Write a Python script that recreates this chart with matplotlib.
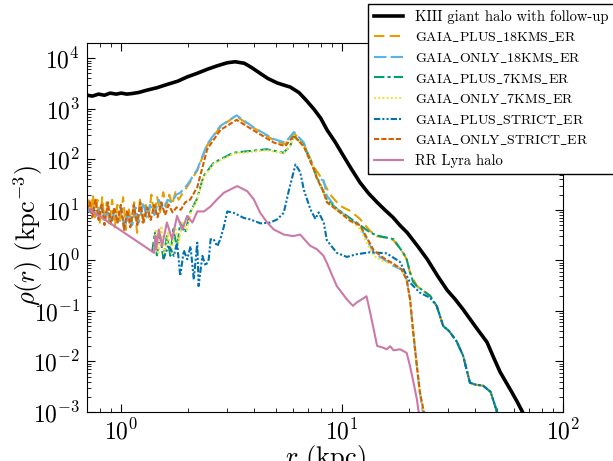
import numpy as np
import matplotlib
matplotlib.use('Agg')
from matplotlib import pyplot as plt

plt.rcParams['font.family'] = ['cmr10', 'DejaVu Serif']
plt.rcParams['mathtext.fontset'] = 'cm'
plt.rcParams['axes.formatter.use_mathtext'] = True
plt.rcParams['axes.unicode_minus'] = False

# radius (kpc) and density (kpc^-3)
r_kiii = [0.70, 0.74, 0.79, 0.84, 0.89, 0.95, 1.0, 1.06, 1.12, 1.2, 1.31, 1.45,
          1.61, 1.8, 1.99, 2.2, 2.45, 2.7, 3.02, 3.28, 3.61, 3.9, 4.26, 4.6,
          5.08, 5.5, 5.82, 6.38, 6.9, 7.46, 8.0, 8.55, 9.3, 10.1, 11.0, 12.05,
          13.2, 14.4, 15.6, 17.0, 18.3, 19.7, 22.0, 24.3, 27.0, 29.9, 32.5,
          35.3, 40.0, 45.3, 48.5, 51.9, 55.0, 58.7, 62.0, 65.2, 68.0]
rho_kiii = [1860, 1780, 1950, 1850, 2040, 1950, 2040, 1950, 2000, 2100, 2340,
            2600, 3020, 3500, 4270, 5000, 6030, 7000, 8130, 8510, 7940, 6500,
            5010, 4000, 3240, 2900, 2690, 2090, 1450, 977, 650, 380, 220, 120,
            65, 34.7, 21, 14.1, 10, 7.08, 4.9, 3.55, 1.9, 1.05, 0.5, 0.257,
            0.17, 0.107, 0.05, 0.024, 0.012, 0.0062, 0.004, 0.00245, 0.0016,
            0.00105, 0.0007]

r_plus18 = [0.70, 0.715, 0.73, 0.745, 0.76, 0.78, 0.80, 0.82, 0.84, 0.86, 0.885,
            0.91, 0.935, 0.96, 0.99, 1.02, 1.05, 1.08, 1.11, 1.145, 1.18, 1.215,
            1.25, 1.29, 1.33, 1.37, 1.41, 1.455, 1.50, 1.55, 1.60, 1.65, 1.70,
            1.76, 1.82, 1.88, 1.95, 2.05, 2.21, 2.45, 2.81, 3.3, 3.98, 4.91,
            5.53, 6.05, 6.71, 7.45, 8.0, 8.83, 9.79, 10.9, 12.05, 13.4, 14.4,
            15.9, 17.1, 18.9, 19.6, 20.3, 21.8, 25.0, 26.8, 28.7, 30.5, 33.0,
            35.3, 37.9, 40.0, 43.6, 47.0, 50.1, 51.5]
rho_plus18 = [10, 17.8, 8.9, 20, 7.1, 15.8, 5.6, 17.8, 6.3, 14.1, 5.0, 15.8, 4.5,
              12.6, 5.6, 17.8, 4.0, 11.2, 5.0, 14.1, 3.5, 15.8, 5.6, 12.6, 7.1,
              20, 7.9, 17.8, 8.9, 22.4, 11.2, 20, 12.6, 22.4, 15.8, 20, 25, 35.5,
              60, 190, 437, 724, 417, 240, 200, 331, 200, 71, 44.7, 20, 12.0,
              9.5, 6.6, 3.8, 3.0, 2.8, 2.5, 1.4, 1.05, 0.575, 0.31, 0.20, 0.126,
              0.05, 0.04, 0.025, 0.013, 0.0038, 0.0035, 0.0033, 0.0025, 0.00105,
              0.0007]

r_only18 = [0.70, 0.724, 0.75, 0.776, 0.813, 0.841, 0.871, 0.902, 0.933, 0.966,
            1.0, 1.035, 1.072, 1.122, 1.161, 1.202, 1.259, 1.303, 1.349, 1.413,
            1.479, 1.549, 1.622, 1.698, 1.778, 1.854, 1.995, 2.21, 2.45, 2.81,
            3.33, 3.98, 4.91, 5.53, 6.05, 6.71, 7.45, 7.69, 8.26, 8.53, 9.46,
            10.9, 12.05, 12.9, 13.9, 15.4, 17.1, 18.6, 19.6, 20.3, 21.0, 21.8,
            22.5, 23.3]
rho_only18 = [10, 8.9, 11.2, 7.6, 12.6, 6.6, 8.9, 5.4, 10, 5.6, 11.2, 4.2, 8.9,
              5.0, 11.2, 5.6, 14.1, 7.1, 12.6, 7.9, 15.8, 10, 15.8, 14.1, 20,
              21.9, 31.6, 63, 200, 457, 741, 427, 251, 214, 347, 214, 63, 43,
              38, 19, 10.5, 6.46, 4.79, 2.63, 1.41, 1.05, 0.776, 0.66, 0.417,
              0.17, 0.037, 0.0081, 0.00245, 0.00089]

r_plus7 = [1.38, 1.42, 1.45, 1.50, 1.55, 1.61, 1.67, 1.72, 1.79, 1.85, 1.95,
           2.05, 2.20, 2.36, 2.62, 3.22, 4.56, 5.42, 5.80, 6.05, 6.71, 7.45,
           7.69, 8.53, 9.46, 10.5, 12.05, 13.4, 14.4, 17.1, 18.9, 19.6, 20.3,
           21.0, 21.8, 25.0, 26.8, 28.7, 30.5, 33.0, 35.3, 37.9, 40.0, 43.6,
           47.0, 50.1, 51.5]
rho_plus7 = [1.45, 3.55, 1.26, 3.16, 1.12, 3.02, 1.23, 4.17, 1.78, 5.62, 3.55,
             8.9, 16.2, 46.8, 85, 135, 158, 135, 178, 282, 190, 66, 44.7, 15.8,
             10.5, 7.6, 5.0, 3.55, 3.1, 2.63, 1.41, 1.05, 0.575, 0.37, 0.31,
             0.20, 0.126, 0.05, 0.04, 0.025, 0.013, 0.0038, 0.0035, 0.0033,
             0.0025, 0.00105, 0.0007]

r_only7 = [1.40, 1.44, 1.47, 1.52, 1.57, 1.63, 1.69, 1.75, 1.82, 1.90, 1.98,
           2.07, 2.20, 2.36, 2.62, 3.22, 4.56, 5.42, 5.80, 6.05, 6.71, 7.45,
           7.69, 8.53, 9.46, 10.5, 12.05, 13.9, 15.4, 17.1, 18.6, 19.6, 20.3,
           21.0, 21.8, 22.5, 23.3, 23.8]
rho_only7 = [1.41, 4.17, 1.32, 4.79, 1.12, 3.55, 1.41, 5.0, 2.24, 6.0, 4.0, 9.5,
             15.1, 43.7, 81, 129, 151, 132, 178, 275, 186, 66, 43.7, 15.1, 10,
             7.1, 4.17, 1.23, 0.95, 0.85, 0.66, 0.417, 0.17, 0.037, 0.0081,
             0.00245, 0.00115, 0.0008]

r_plus_strict = [1.55, 1.64, 1.73, 1.79, 1.85, 1.92, 1.99, 2.06, 2.13, 2.21,
                 2.24, 2.33, 2.41, 2.49, 2.54, 2.62, 2.72, 2.81, 2.92, 3.02,
                 3.24, 3.59, 3.84, 4.27, 4.72, 5.08, 5.44, 5.75, 6.15, 6.46,
                 6.71, 7.19, 7.57, 7.83, 8.26, 8.53, 9.46, 10.5, 11.6, 13.4,
                 15.9, 18.3, 20.3, 22.5, 25.0, 26.8, 28.7, 30.5, 33.0, 35.3,
                 37.9, 40.0, 43.6, 47.0, 50.1, 51.5]
rho_plus_strict = [1.05, 2.0, 1.23, 2.24, 0.49, 1.58, 1.05, 1.9, 0.42, 2.24,
                   0.31, 1.23, 0.78, 1.05, 2.63, 2.63, 1.9, 2.63, 4.79, 9.3,
                   8.7, 6.9, 6.46, 5.4, 5.6, 6.46, 8.7, 25, 79, 56, 25, 10.2,
                   6.6, 8.9, 5.6, 2.5, 1.41, 1.17, 1.32, 1.45, 1.38, 0.93,
                   0.363, 0.229, 0.182, 0.126, 0.05, 0.04, 0.025, 0.013,
                   0.0038, 0.0035, 0.0033, 0.0025, 0.00105, 0.0007]

r_only_strict = [0.70, 0.72, 0.74, 0.765, 0.79, 0.815, 0.84, 0.87, 0.90, 0.93,
                 0.96, 0.995, 1.03, 1.065, 1.10, 1.14, 1.18, 1.22, 1.26, 1.31,
                 1.36, 1.41, 1.46, 1.52, 1.58, 1.64, 1.71, 1.78, 1.86, 1.95,
                 2.05, 2.21, 2.45, 2.81, 3.33, 3.98, 4.91, 5.53, 6.05, 6.71,
                 7.45, 7.69, 8.26, 8.53, 9.46, 10.9, 12.05, 13.9, 15.4, 17.1,
                 18.6, 19.6, 20.3, 21.0, 21.8, 22.5, 23.3, 23.8]
rho_only_strict = [10, 14.1, 7.1, 15.8, 6.3, 12.6, 5.0, 14.1, 5.2, 11.2, 5.6,
                   12.6, 4.0, 10, 4.5, 12.6, 5.0, 14.1, 5.6, 11.2, 6.3, 12.6,
                   7.1, 14.1, 7.9, 12.6, 8.9, 11.2, 10, 14.1, 15.8, 28.2, 158,
                   380, 603, 372, 214, 182, 295, 178, 63, 41.7, 22.4, 14.1, 10,
                   6.0, 5.0, 1.58, 1.12, 0.85, 0.66, 0.417, 0.17, 0.037, 0.0081,
                   0.00245, 0.00115, 0.0008]

r_rrl = [0.70, 1.41, 1.43, 1.44, 1.48, 1.53, 1.61, 1.70, 1.79, 1.89, 1.99, 2.10,
         2.21, 2.37, 2.54, 2.72, 2.92, 3.35, 3.72, 3.98, 4.26, 4.58, 4.91, 5.45,
         6.0, 6.46, 7.16, 7.69, 8.24, 8.53, 9.46, 10.5, 11.2, 11.6, 12.9, 13.4,
         14.4, 15.4, 15.9, 16.5, 17.1, 18.3, 19.6, 20.3, 21.0, 21.8, 22.1, 22.5]
rho_rrl = [11, 1.41, 3.02, 1.66, 4.07, 1.9, 5.62, 2.63, 7.59, 4.07, 7.59, 5.62,
           9.3, 9.3, 11.7, 16.2, 21.9, 29.5, 23.4, 16.2, 8.7, 5.62, 4.07, 3.24,
           3.02, 3.24, 1.95, 1.66, 1.23, 0.89, 0.31, 0.17, 0.126, 0.145, 0.195,
           0.093, 0.0204, 0.0186, 0.0174, 0.020, 0.0166, 0.0174, 0.0148, 0.0081,
           0.004, 0.0018, 0.00115, 0.0008]

labels = ['KIII giant halo with follow-up',
          r'$\mathrm{GAIA\_PLUS\_18KMS\_ER}$', r'$\mathrm{GAIA\_ONLY\_18KMS\_ER}$',
          r'$\mathrm{GAIA\_PLUS\_7KMS\_ER}$', r'$\mathrm{GAIA\_ONLY\_7KMS\_ER}$',
          r'$\mathrm{GAIA\_PLUS\_STRICT\_ER}$', r'$\mathrm{GAIA\_ONLY\_STRICT\_ER}$',
          'RR Lyra halo']

series = [
    (r_kiii, rho_kiii, 'k', '-', 2.6),
    (r_plus18, rho_plus18, '#E69F00', (0, (5, 2.5)), 1.5),
    (r_only18, rho_only18, '#56B4E9', (0, (6, 2)), 1.5),
    (r_plus7, rho_plus7, '#009E73', (0, (5, 1.5, 1.5, 1.5)), 1.5),
    (r_only7, rho_only7, '#F0E442', (0, (1, 1)), 1.5),
    (r_plus_strict, rho_plus_strict, '#0072B2', (0, (3, 1, 1, 1, 1, 1)), 1.5),
    (r_only_strict, rho_only_strict, '#D55E00', (0, (2.5, 1)), 1.5),
    (r_rrl, rho_rrl, '#CC79A7', '-', 1.5),
]

fig = plt.figure(figsize=(6.13, 4.61), dpi=100)
ax = fig.add_axes([87/613, 1 - 412/461, (563 - 87)/613, (412 - 43)/461])

for (r, rho, c, ls, lw), lab in zip(series, labels):
    ax.plot(r, rho, color=c, ls=ls, lw=lw, label=lab)

ax.set_xscale('log')
ax.set_yscale('log')
ax.set_xlim(0.70, 100)
ax.set_ylim(1e-3, 2e4)
ax.tick_params(which='both', direction='in', top=True, right=True,
               labelsize=17, pad=5)
ax.tick_params(which='major', length=6)
ax.tick_params(which='minor', length=3)
ax.set_xlabel(r'$r$ (kpc)', fontsize=19)
ax.set_ylabel(r'$\rho(r)$ (kpc$^{-3}$)', fontsize=19)
ax.xaxis.set_label_coords(0.5, -0.083)
ax.yaxis.set_label_coords(-0.088, 0.48)

leg = ax.legend(loc='upper left', bbox_to_anchor=(368/613, 1 - 4/461),
                bbox_transform=fig.transFigure, borderaxespad=0,
                fancybox=False, edgecolor='k', framealpha=1, fontsize=10.5,
                handlelength=2.0, labelspacing=0.46)
for t in leg.get_texts()[1:-1]:
    t.set_fontsize(10)

fig.savefig('out.png', dpi=100)
